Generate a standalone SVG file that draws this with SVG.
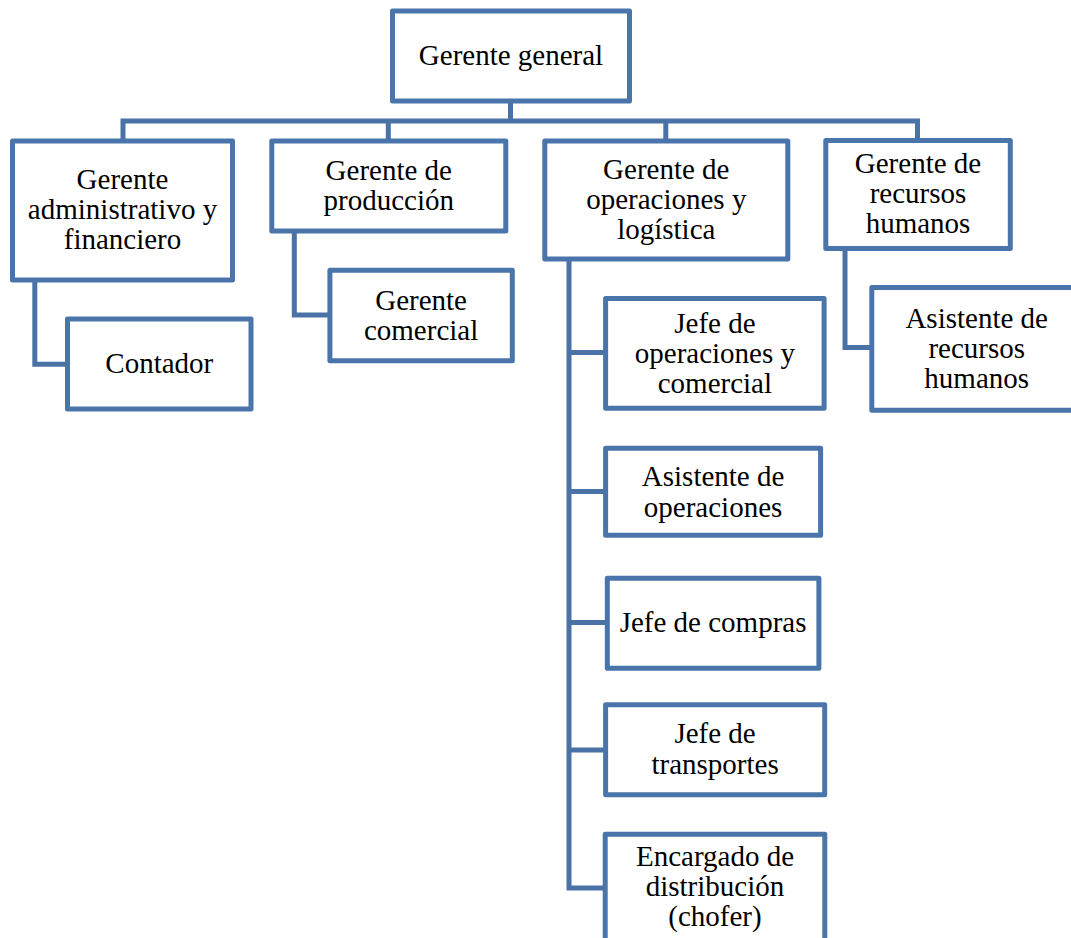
<svg xmlns="http://www.w3.org/2000/svg" width="1071" height="938" viewBox="0 0 1071 938">
<style>
.box{fill:#ffffff;stroke:#4a75ab;stroke-width:5;stroke-linejoin:round}
.con{fill:none;stroke:#4a72a6;stroke-width:5;stroke-linejoin:miter;stroke-linecap:butt}
text{font-family:"Liberation Serif","Times New Roman",serif;font-size:29px;fill:#000;text-anchor:middle}
</style>
<rect width="1071" height="938" fill="#ffffff"/>
<g id="connectors">
<path class="con" d="M510.5,103 V121"/>
<path class="con" d="M123,141 V121 H917.5 V141"/>
<path class="con" d="M388.3,121 V141"/>
<path class="con" d="M665.8,121 V141"/>
<path class="con" d="M34.8,280 V364.2 H67.5"/>
<path class="con" d="M294.3,231 V315 H330"/>
<path class="con" d="M569,259 V888 H605.6"/>
<path class="con" d="M569,352.5 H605.6"/>
<path class="con" d="M569,491.5 H605.6"/>
<path class="con" d="M569,622.5 H607.3"/>
<path class="con" d="M569,750 H605.6"/>
<path class="con" d="M845,248.5 V347.5 H871.8"/>
</g>
<g id="gerente-general">
<rect class="box" x="392.5" y="11" width="237" height="90"/>
<text x="511" y="65">Gerente general</text>
</g>
<g id="gerente-administrativo">
<rect class="box" x="12.5" y="141" width="220" height="139"/>
<text x="122.5" y="189.3">Gerente</text>
<text x="122.5" y="219.3">administrativo y</text>
<text x="122.5" y="249">financiero</text>
</g>
<g id="gerente-produccion">
<rect class="box" x="271.8" y="141" width="234" height="90"/>
<text x="388.8" y="180">Gerente de</text>
<text x="388.8" y="209.5">producción</text>
</g>
<g id="gerente-operaciones">
<rect class="box" x="544.8" y="141" width="243" height="118"/>
<text x="666.3" y="179">Gerente de</text>
<text x="666.3" y="209">operaciones y</text>
<text x="666.3" y="238.5">logística</text>
</g>
<g id="gerente-rrhh">
<rect class="box" x="825.8" y="140.5" width="184.5" height="108"/>
<text x="918" y="173.3">Gerente de</text>
<text x="918" y="203.3">recursos</text>
<text x="918" y="233.3">humanos</text>
</g>
<g id="contador">
<rect class="box" x="67.5" y="319" width="183.5" height="90"/>
<text x="159.3" y="373.3">Contador</text>
</g>
<g id="gerente-comercial">
<rect class="box" x="329.9" y="270.2" width="182.4" height="90.6"/>
<text x="421.1" y="310">Gerente</text>
<text x="421.1" y="340">comercial</text>
</g>
<g id="jefe-operaciones-comercial">
<rect class="box" x="605.6" y="298.5" width="218.5" height="109.7"/>
<text x="714.9" y="332.7">Jefe de</text>
<text x="714.9" y="362.7">operaciones y</text>
<text x="714.9" y="392.7">comercial</text>
</g>
<g id="asistente-rrhh">
<rect class="box" x="871.8" y="287.5" width="215" height="122.7"/>
<text x="976.7" y="328.3">Asistente de</text>
<text x="976.7" y="358.3">recursos</text>
<text x="976.7" y="388.3">humanos</text>
</g>
<g id="asistente-operaciones">
<rect class="box" x="605.6" y="448.2" width="215" height="87"/>
<text x="713.1" y="486">Asistente de</text>
<text x="713.1" y="516.7">operaciones</text>
</g>
<g id="jefe-compras">
<rect class="box" x="607.3" y="578.2" width="211.6" height="90"/>
<text x="713.1" y="632.3">Jefe de compras</text>
</g>
<g id="jefe-transportes">
<rect class="box" x="605.6" y="704.8" width="219.1" height="90"/>
<text x="715.1" y="743.3">Jefe de</text>
<text x="715.1" y="774.3">transportes</text>
</g>
<g id="encargado-distribucion">
<rect class="box" x="605.2" y="834.2" width="219.6" height="120"/>
<text x="715" y="866">Encargado de</text>
<text x="715" y="895.5">distribución</text>
<text x="715" y="925.5">(chofer)</text>
</g>
</svg>
